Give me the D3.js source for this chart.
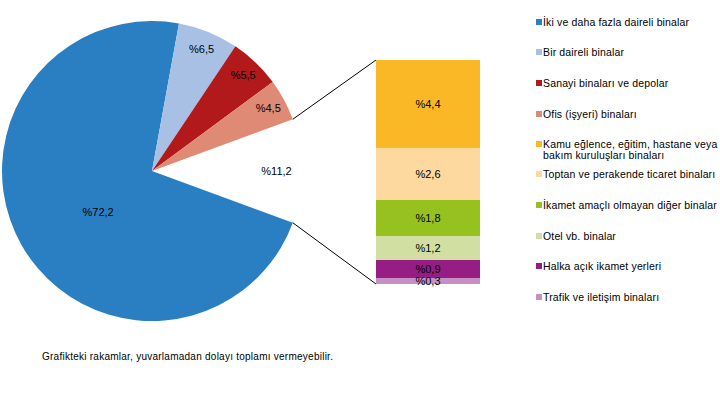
<!DOCTYPE html>
<html>
<head>
<meta charset="utf-8">
<script src="https://cdn.jsdelivr.net/npm/d3@7/dist/d3.min.js"></script>
<style>
  body { margin: 0; background: #fff; }
  text { font-family: "Liberation Sans", Arial, sans-serif; fill: #000; }
</style>
</head>
<body>
<div id="chart"></div>
<script>
// pie slices (the last one is split out into the bar)
var pieNames = ["İki ve daha fazla daireli binalar", "Bir daireli binalar", "Sanayi binaları ve depolar", "Ofis (işyeri) binaları"];
var pieValues = [72.2, 6.5, 5.5, 4.5];
var pieColors = ["#2a7fc3", "#a7c0e3", "#b2191b", "#de8a74"];
var otherValue = 11.2;

// bar segments, top to bottom
var barNames = ["Kamu eğlence, eğitim, hastane veya|bakım kuruluşları binaları", "Toptan ve perakende ticaret binaları", "İkamet amaçlı olmayan diğer binalar", "Otel vb. binalar", "Halka açık ikamet yerleri", "Trafik ve iletişim binaları"];
var barValues = [4.4, 2.6, 1.8, 1.2, 0.9, 0.3];
var barColors = ["#fbb826", "#fdd9a0", "#97c11f", "#d1e0a2", "#951d83", "#c690c5"];

var note = "Grafikteki rakamlar, yuvarlamadan dolayı toplamı vermeyebilir.";

function fmt(v){ return "%" + String(v).replace(".", ","); }

var W = 720, H = 395;
var svg = d3.select("#chart").append("svg").attr("width", W).attr("height", H);

var cx = 152, cy = 171, R = 150;
var total = d3.sum(pieValues) + otherValue;
var otherAngle = otherValue / total * 2 * Math.PI;
var start = Math.PI / 2 - otherAngle / 2;

var pieData = d3.pie().sort(null).value(function(d){ return d.v; })
  .startAngle(start).endAngle(start + 2 * Math.PI)(
    [{v: otherValue, c: null}].concat(pieValues.map(function(v, i){ return {v: v, c: pieColors[i]}; }))
  );

var arc = d3.arc().innerRadius(0).outerRadius(R);
var g = svg.append("g").attr("transform", "translate(" + cx + "," + cy + ")");

g.selectAll("path").data(pieData.filter(function(d){ return d.data.c; }))
  .enter().append("path")
  .attr("d", arc)
  .attr("fill", function(d){ return d.data.c; });

// labels: big slice labelled closer to centre
g.selectAll("text.lbl").data(pieData).enter().append("text")
  .attr("class", "lbl")
  .attr("transform", function(d){
    var lr = d.data.v > 50 ? 0.46 * R : (d.data.c ? 0.88 * R : 0.83 * R);
    var c = d3.arc().innerRadius(lr).outerRadius(lr).centroid(d);
    if (d.data.v > 50) { c[0] += 6; c[1] += 7; }
    return "translate(" + c[0] + "," + c[1] + ")";
  })
  .attr("text-anchor", "middle")
  .attr("dy", "0.35em")
  .style("font-size", "11px")
  .text(function(d){ return fmt(d.data.v); });

// bar of the "other" part
var bx = 376, bw = 104, bTop = 60, bBot = 284;
var y = d3.scaleLinear().domain([0, d3.sum(barValues)]).range([bTop, bBot]);
var cum = 0;
var segs = barValues.map(function(v, i){ var s = {y0: cum, y1: cum + v, v: v, c: barColors[i]}; cum += v; return s; });

svg.selectAll("rect.seg").data(segs).enter().append("rect")
  .attr("class", "seg")
  .attr("x", bx).attr("width", bw)
  .attr("y", function(d){ return y(d.y0); })
  .attr("height", function(d){ return y(d.y1) - y(d.y0); })
  .attr("fill", function(d){ return d.c; });

svg.selectAll("text.seg").data(segs).enter().append("text")
  .attr("class", "seg")
  .attr("x", bx + bw / 2)
  .attr("y", function(d){ return (y(d.y0) + y(d.y1)) / 2; })
  .attr("dy", "0.35em")
  .attr("text-anchor", "middle")
  .style("font-size", "11px")
  .text(function(d){ return fmt(d.v); });

// connector lines
var o = pieData[0];
[[o.startAngle, bTop], [o.endAngle, bBot]].forEach(function(p){
  svg.append("line")
    .attr("x1", cx + R * Math.sin(p[0])).attr("y1", cy - R * Math.cos(p[0]))
    .attr("x2", bx).attr("y2", p[1])
    .attr("stroke", "#000").attr("stroke-width", 1);
});

// legend
var legNames = pieNames.concat(barNames);
var legColors = pieColors.concat(barColors);
var ly = [22, 52, 83, 114, 144, 174, 205, 236, 266, 297];
var lg = svg.append("g");
legNames.forEach(function(n, i){
  lg.append("rect").attr("x", 536).attr("y", ly[i] - 3).attr("width", 6).attr("height", 6).attr("fill", legColors[i]);
  var t = lg.append("text").attr("x", 543).attr("y", ly[i])
    .style("font-size", "10.5px").style("letter-spacing", "0.15px");
  n.split("|").forEach(function(line, k){
    t.append("tspan").attr("x", 543).attr("dy", k ? "1.05em" : "0.35em").text(line);
  });
});

svg.append("text").attr("x", 42).attr("y", 356).attr("dy", "0.35em")
  .style("font-size", "10px").style("letter-spacing", "0.25px").text(note);
</script>
</body>
</html>
